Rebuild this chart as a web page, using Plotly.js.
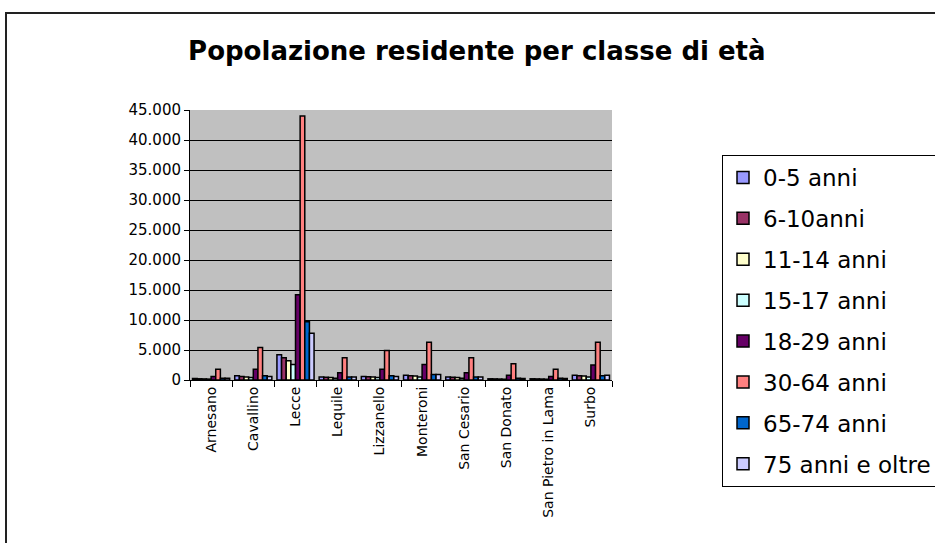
<!DOCTYPE html>
<html>
<head>
<meta charset="utf-8">
<script src="https://cdn.plot.ly/plotly-3.0.1.min.js"></script>
<style>
  body { margin: 0; background: #fff; overflow: hidden; }
  #wrap { position: relative; width: 935px; height: 543px; }
  #frame { position: absolute; left: 5px; top: 12px; width: 960px; height: 560px;
           border: 2px solid #222; box-sizing: border-box; }
  #plot { position: absolute; left: 0; top: 0; width: 935px; height: 543px; }
</style>
</head>
<body>
<div id="wrap">
  <div id="frame"></div>
  <div id="plot"></div>
</div>
<script>
var comuni = ['Arnesano', 'Cavallino', 'Lecce', 'Lequile', 'Lizzanello', 'Monteroni',
  'San Cesario', 'San Donato', 'San Pietro in Lama', 'Surbo'];

var classi = ['0-5 anni', '6-10anni', '11-14 anni', '15-17 anni', '18-29 anni',
  '30-64 anni', '65-74 anni', '75 anni e oltre'];

var colori = ['#9999FF', '#993366', '#FFFFCC', '#CCFFFF', '#660066', '#FF8080', '#0066CC', '#CCCCFF'];

var anni0_5   = [250, 700, 4200, 500, 600, 800, 500, 200, 200, 800];
var anni6_10  = [200, 600, 3700, 450, 550, 700, 450, 180, 180, 700];
var anni11_14 = [180, 500, 3200, 400, 500, 650, 400, 160, 160, 650];
var anni15_17 = [150, 400, 2600, 300, 400, 500, 300, 130, 130, 500];
var anni18_29 = [600, 1800, 14200, 1200, 1800, 2600, 1200, 800, 600, 2500];
var anni30_64 = [1800, 5400, 44000, 3700, 4900, 6300, 3700, 2700, 1800, 6300];
var anni65_74 = [300, 700, 9700, 500, 700, 900, 500, 300, 300, 700];
var anni75    = [300, 600, 7800, 500, 600, 900, 500, 250, 250, 800];

var serie = [anni0_5, anni6_10, anni11_14, anni15_17, anni18_29, anni30_64, anni65_74, anni75];

var data = [];
for (var i = 0; i < serie.length; i++) {
  data.push({
    type: 'bar',
    name: classi[i],
    x: comuni,
    y: serie[i],
    legendgroup: 'g' + i,
    marker: { color: colori[i], line: { color: '#000', width: 1.5 } },
    hoverinfo: 'x+y+name'
  });
}

var font = '"DejaVu Sans", Verdana, sans-serif';

var layout = {
  width: 935,
  height: 543,
  margin: { l: 190, r: 323, t: 110, b: 163 },
  paper_bgcolor: 'rgba(0,0,0,0)',
  plot_bgcolor: '#C0C0C0',
  separators: ',.',
  barmode: 'group',
  bargap: 0.12,
  bargroupgap: 0,
  font: { family: font, color: '#000' },
  title: {
    text: '<b>Popolazione residente per classe di età</b>',
    font: { family: font, size: 26, color: '#000' },
    xref: 'container', x: 0.51,
    yref: 'container', y: 0.906, yanchor: 'middle'
  },
  xaxis: {
    type: 'category',
    tickangle: -90,
    tickfont: { size: 14 },
    ticks: 'outside',
    tickson: 'boundaries',
    ticklen: 6,
    tickcolor: '#000',
    showline: true,
    linecolor: '#000',
    linewidth: 1,
    showgrid: false
  },
  yaxis: {
    range: [0, 45000],
    dtick: 5000,
    tickformat: ',d',
    tickfont: { size: 15 },
    ticks: 'outside',
    ticklen: 5,
    tickcolor: '#000',
    showline: true,
    linecolor: '#000',
    linewidth: 1,
    gridcolor: '#000',
    gridwidth: 1,
    zeroline: false
  },
  legend: {
    xref: 'container', x: 722 / 935, xanchor: 'left',
    yref: 'container', y: 1 - 155 / 543, yanchor: 'top',
    maxheight: 420,
    bgcolor: '#fff',
    bordercolor: '#000',
    borderwidth: 1,
    traceorder: 'grouped',
    tracegroupgap: 8,
    font: { family: font, size: 23, color: '#000' }
  },
  showlegend: true
};

Plotly.newPlot('plot', data, layout, { displayModeBar: false, staticPlot: true });
</script>
</body>
</html>
